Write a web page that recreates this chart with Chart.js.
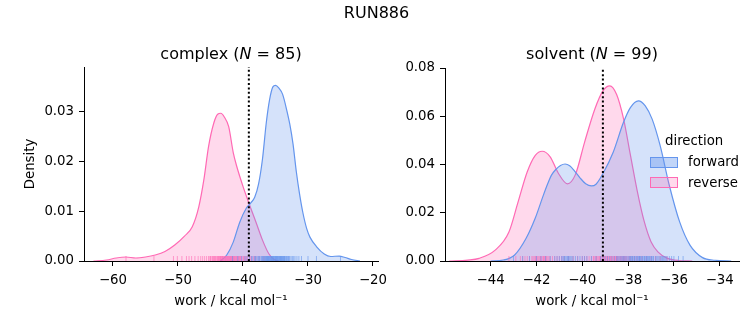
<!DOCTYPE html>
<html>
<head>
<meta charset="utf-8">
<script src="https://cdn.jsdelivr.net/npm/chart.js@4"></script>
<style>
  body { margin: 0; background: #fff; }
  #fig { position: relative; width: 753px; height: 325px; background: #fff; font-family: 'DejaVu Sans', sans-serif; color: #000; }
  #fig canvas { position: absolute; left: 0; top: 0; }
  .txt { position: absolute; white-space: nowrap; line-height: 16px; }
  .title { font-size: 16px; text-align: center; }
  .leg { font-size: 13.3px; }
  .patch { position: absolute; width: 26px; height: 9px; }
</style>
</head>
<body>
<div id="fig">
  <canvas id="complexChart" width="753" height="325"></canvas>
  <canvas id="solventChart" width="753" height="325"></canvas>
  <div class="txt title" style="left:0;width:753px;top:5px;">RUN886</div>
  <div class="txt title" style="left:84px;width:294px;top:46px;">complex (<i>N</i> = 85)</div>
  <div class="txt title" style="left:445px;width:294px;top:46px;">solvent (<i>N</i> = 99)</div>
  <div class="txt leg" style="left:665px;top:133px;">direction</div>
  <div class="patch" style="left:650px;top:157px;background:rgba(100,149,237,0.4);border:1px solid #6495ed;"></div>
  <div class="txt leg" style="left:688px;top:154px;">forward</div>
  <div class="patch" style="left:650px;top:177px;background:rgba(255,105,180,0.25);border:1px solid #ff69b4;"></div>
  <div class="txt leg" style="left:688px;top:175px;">reverse</div>
</div>
<script>
// estimate of the free energy (dotted line), kcal/mol
const estimate = -39.1;

// complex leg: KDE curves
const complexFwdX = [-43.5, -42.5, -41.5, -40.5, -39.5, -38.8, -38.2, -37.6, -37.0, -36.4, -35.9, -35.4, -35.0, -34.5, -33.9, -33.3, -32.8, -32.3, -31.8, -31.3, -30.8, -30.2, -29.7, -28.7, -27.5, -26.5, -25.2, -24.3, -23.3, -22.0];
const complexFwdY = [0, 0.0012, 0.0038, 0.0078, 0.0106, 0.0117, 0.0128, 0.0155, 0.0205, 0.0280, 0.0325, 0.0350, 0.0353, 0.0348, 0.0335, 0.0305, 0.0275, 0.0235, 0.0180, 0.0135, 0.0098, 0.0065, 0.0048, 0.0029, 0.0014, 0.0009, 0.0010, 0.0007, 0.0003, 0];
const complexRevX = [-63.0, -61.0, -59.5, -58.0, -56.5, -55.0, -53.5, -52.0, -50.5, -49.0, -47.8, -46.8, -46.0, -45.3, -44.5, -43.9, -43.4, -42.9, -42.2, -41.5, -41.0, -40.0, -39.0, -38.0, -37.0, -36.0, -35.2, -34.5];
const complexRevY = [0, 0.0002, 0.0006, 0.0008, 0.0006, 0.0008, 0.0012, 0.0019, 0.0032, 0.0050, 0.0069, 0.0109, 0.0165, 0.0230, 0.0277, 0.0295, 0.0297, 0.0290, 0.0270, 0.0218, 0.0192, 0.0150, 0.0113, 0.0078, 0.0042, 0.0014, 0.0003, 0];

// complex leg: individual work values (rug)
const complexFwdWork = [-41.6, -40.8, -40.2, -39.7, -39.4, -39.0, -38.7, -38.5, -38.2, -38.1, -38.0, -37.8, -37.6, -37.5, -37.4, -37.2, -37.1, -37.0, -36.9, -36.8, -36.7, -36.6, -36.5, -36.45, -36.4, -36.3, -36.25, -36.2, -36.1, -36.05, -36.0, -35.9, -35.85, -35.8, -35.7, -35.65, -35.6, -35.5, -35.45, -35.4, -35.3, -35.25, -35.2, -35.1, -35.05, -35.0, -34.9, -34.85, -34.8, -34.7, -34.65, -34.6, -34.5, -34.45, -34.4, -34.3, -34.25, -34.2, -34.1, -34.05, -34.0, -33.9, -33.85, -33.8, -33.7, -33.65, -33.6, -33.5, -33.4, -33.3, -33.2, -33.1, -33.0, -32.9, -32.8, -32.6, -32.4, -32.2, -32.0, -31.7, -31.4, -31.0, -30.0, -28.7, -25.0];
const complexRevWork = [-58.0, -53.7, -50.7, -50.1, -49.4, -48.7, -48.3, -47.9, -47.4, -46.9, -46.5, -46.2, -45.9, -45.6, -45.3, -45.1, -45.0, -44.9, -44.7, -44.6, -44.5, -44.4, -44.3, -44.2, -44.1, -43.9, -43.85, -43.8, -43.7, -43.6, -43.5, -43.45, -43.4, -43.3, -43.2, -43.15, -43.1, -43.0, -42.9, -42.8, -42.75, -42.7, -42.6, -42.5, -42.45, -42.4, -42.3, -42.2, -42.15, -42.1, -42.0, -41.9, -41.85, -41.8, -41.7, -41.6, -41.55, -41.5, -41.4, -41.3, -41.2, -41.1, -41.0, -40.9, -40.8, -40.7, -40.6, -40.5, -40.4, -40.3, -40.2, -40.0, -39.9, -39.8, -39.6, -39.5, -39.3, -39.0, -38.9, -38.7, -38.4, -38.2, -38.0, -37.5, -36.8];

// solvent leg: KDE curves
const solventFwdX = [-44.0, -43.45, -42.95, -42.45, -42.05, -41.7, -41.5, -41.35, -41.15, -40.95, -40.75, -40.55, -40.35, -40.1, -39.85, -39.6, -39.4, -39.1, -38.65, -38.2, -37.9, -37.55, -37.25, -36.95, -36.6, -36.2, -35.75, -35.3, -34.75, -34.2, -33.5];
const solventFwdY = [0, 0.0004, 0.0025, 0.0094, 0.0178, 0.0272, 0.0322, 0.0355, 0.0380, 0.0396, 0.0402, 0.0395, 0.0375, 0.0345, 0.0320, 0.0311, 0.0318, 0.0362, 0.0451, 0.0575, 0.0636, 0.0664, 0.0643, 0.0588, 0.0478, 0.0313, 0.0162, 0.0066, 0.0014, 0.0003, 0];
const solventRevX = [-45.8, -45.0, -44.5, -43.8, -43.2, -42.8, -42.4, -42.05, -41.75, -41.4, -41.05, -40.65, -40.3, -39.9, -39.45, -39.1, -38.8, -38.5, -38.2, -37.9, -37.6, -37.3, -37.0, -36.7, -36.3, -35.8, -35.2];
const solventRevY = [0, 0.0004, 0.0011, 0.0045, 0.0120, 0.0245, 0.0370, 0.0438, 0.0455, 0.0432, 0.0365, 0.0320, 0.0358, 0.0492, 0.0630, 0.0705, 0.0726, 0.0690, 0.0590, 0.0440, 0.0290, 0.0165, 0.0080, 0.0038, 0.0012, 0.0002, 0];

// solvent leg: individual work values (rug)
const solventFwdWork = [-43.0, -42.6, -42.3, -42.0, -41.8, -41.6, -41.4, -41.2, -41.1, -41.0, -40.9, -40.85, -40.8, -40.78, -40.75, -40.7, -40.65, -40.62, -40.6, -40.55, -40.5, -40.45, -40.4, -40.3, -40.2, -40.1, -40.0, -39.9, -39.8, -39.6, -39.4, -39.2, -39.1, -39.0, -38.9, -38.8, -38.7, -38.6, -38.5, -38.45, -38.4, -38.35, -38.3, -38.25, -38.2, -38.15, -38.1, -38.05, -38.0, -37.95, -37.92, -37.9, -37.85, -37.82, -37.8, -37.75, -37.72, -37.7, -37.65, -37.62, -37.6, -37.55, -37.52, -37.5, -37.48, -37.45, -37.4, -37.38, -37.35, -37.3, -37.28, -37.25, -37.2, -37.18, -37.15, -37.1, -37.08, -37.05, -37.0, -36.98, -36.95, -36.9, -36.88, -36.8, -36.75, -36.7, -36.65, -36.6, -36.55, -36.5, -36.45, -36.4, -36.35, -36.3, -36.2, -36.1, -36.0, -35.8, -35.6];
const solventRevWork = [-43.2, -42.9, -42.7, -42.6, -42.5, -42.4, -42.3, -42.2, -42.15, -42.1, -42.05, -42.02, -42.0, -41.95, -41.9, -41.85, -41.82, -41.8, -41.75, -41.7, -41.68, -41.65, -41.6, -41.58, -41.55, -41.5, -41.45, -41.4, -41.3, -41.2, -41.1, -41.0, -40.9, -40.8, -40.6, -40.4, -40.2, -40.0, -39.9, -39.8, -39.7, -39.6, -39.52, -39.5, -39.45, -39.4, -39.38, -39.35, -39.3, -39.25, -39.22, -39.2, -39.15, -39.1, -39.08, -39.05, -39.02, -39.0, -38.95, -38.92, -38.9, -38.88, -38.85, -38.8, -38.78, -38.75, -38.72, -38.7, -38.65, -38.62, -38.6, -38.55, -38.52, -38.5, -38.48, -38.45, -38.4, -38.35, -38.32, -38.3, -38.25, -38.2, -38.18, -38.15, -38.1, -38.08, -38.0, -37.95, -37.9, -37.8, -37.7, -37.6, -37.5, -37.4, -37.2, -37.0, -36.8, -36.6, -36.3];

const BLUE = '#6495ed';
const PINK = '#ff69b4';

Chart.defaults.font.family = "'DejaVu Sans', sans-serif";
Chart.defaults.font.size = 13.3;
Chart.defaults.color = '#000';

function zip(xs, ys) {
    return xs.map((x, i) => ({ x: x, y: ys[i] }));
}

function rug(xs) {
    return xs.map(x => ({ x: x, y: 0 }));
}

function kdeSet(label, xs, ys, color, fill) {
    return {
        type: 'line',
        label: label,
        data: zip(xs, ys),
        borderColor: color,
        borderWidth: 1.2,
        backgroundColor: fill,
        fill: 'origin',
        pointRadius: 0,
        cubicInterpolationMode: 'monotone',
        order: 3
    };
}

function rugSet(xs, color) {
    return {
        type: 'scatter',
        data: rug(xs),
        pointStyle: 'line',
        rotation: 90,
        radius: 5,
        borderWidth: 1,
        borderColor: color,
        clip: { left: false, top: false, right: false, bottom: 0 },
        order: 2
    };
}

function makeChart(id, cfg) {
    const tickGrid = { display: true, drawOnChartArea: false, drawTicks: true, tickLength: 5, color: '#000', lineWidth: 1 };
    const minus = v => (v < 0 ? '\u2212' : '') + Math.abs(v);
    return new Chart(document.getElementById(id), {
        type: 'line',
        data: {
            datasets: [
                {
                    type: 'line',
                    data: [{ x: estimate, y: 0 }, { x: estimate, y: cfg.yMax }],
                    borderColor: '#000',
                    borderWidth: 2,
                    borderDash: [2, 2.4],
                    pointRadius: 0,
                    fill: false,
                    order: 1
                },
                rugSet(cfg.fwdWork, 'rgba(100,149,237,0.6)'),
                rugSet(cfg.revWork, 'rgba(255,105,180,0.6)'),
                kdeSet('forward', cfg.fwdX, cfg.fwdY, BLUE, 'rgba(100,149,237,0.27)'),
                kdeSet('reverse', cfg.revX, cfg.revY, PINK, 'rgba(255,105,180,0.25)')
            ]
        },
        options: {
            responsive: false,
            animation: false,
            devicePixelRatio: 1,
            layout: { padding: cfg.padding },
            plugins: { legend: { display: false }, tooltip: { enabled: false } },
            scales: {
                x: {
                    type: 'linear',
                    min: cfg.xMin,
                    max: cfg.xMax,
                    grid: tickGrid,
                    border: { display: true, color: '#000', width: 1 },
                    ticks: { stepSize: cfg.xStep, includeBounds: false, padding: 7, maxRotation: 0, callback: minus },
                    title: { display: true, text: 'work / kcal mol\u207B\u00B9', padding: { top: 0, bottom: 15 } },
                    afterFit: scale => { scale.height = 64; }
                },
                y: {
                    type: 'linear',
                    min: 0,
                    max: cfg.yMax,
                    grid: tickGrid,
                    border: { display: true, color: '#000', width: 1 },
                    ticks: { stepSize: cfg.yStep, includeBounds: false, padding: 5, callback: v => v.toFixed(2) },
                    title: { display: cfg.yTitle, text: 'Density', padding: { top: 23, bottom: 0 } },
                    afterFit: scale => { scale.width = cfg.yWidth; }
                }
            }
        }
    });
}

document.addEventListener('DOMContentLoaded', () => {
    makeChart('complexChart', {
        fwdX: complexFwdX, fwdY: complexFwdY, revX: complexRevX, revY: complexRevY,
        fwdWork: complexFwdWork, revWork: complexRevWork,
        xMin: -64.46, xMax: -19.23, xStep: 10,
        yMax: 0.039, yStep: 0.01,
        yTitle: true, yWidth: 84,
        padding: { left: 0, top: 67, right: 375, bottom: 0 }
    });
    makeChart('solventChart', {
        fwdX: solventFwdX, fwdY: solventFwdY, revX: solventRevX, revY: solventRevY,
        fwdWork: solventFwdWork, revWork: solventRevWork,
        xMin: -45.99, xMax: -33.16, xStep: 2,
        yMax: 0.08, yStep: 0.02,
        yTitle: false, yWidth: 55,
        padding: { left: 390, top: 68, right: 14, bottom: 0 }
    });
});
</script>
</body>
</html>
